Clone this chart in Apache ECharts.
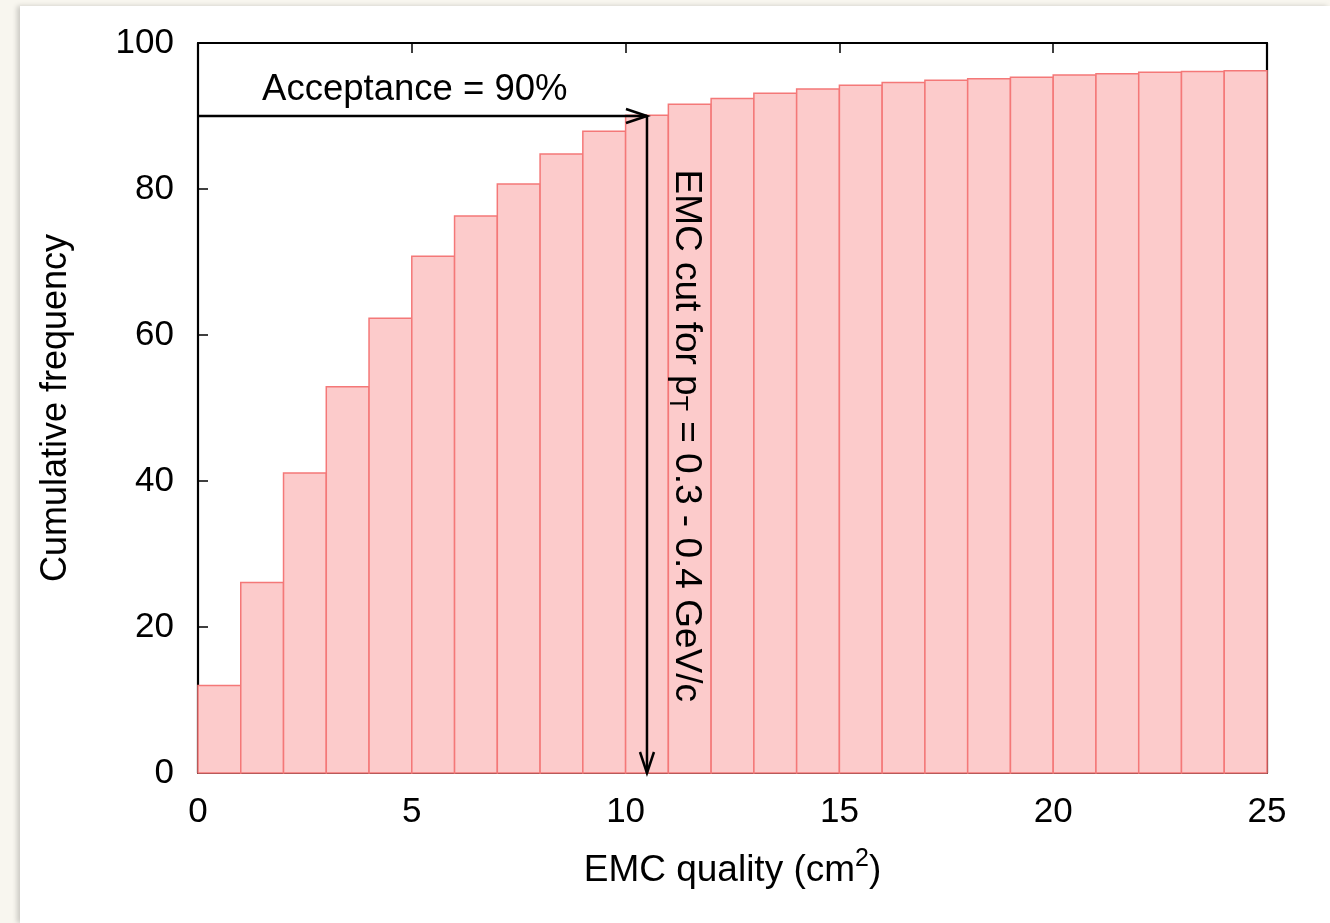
<!DOCTYPE html>
<html><head><meta charset="utf-8">
<script src="https://cdn.jsdelivr.net/npm/echarts@6/dist/echarts.min.js"></script>
<style>
html,body{margin:0;padding:0;background:#f8f6ef;width:1330px;height:923px;overflow:hidden}
#panel{position:absolute;left:20px;top:6px;width:1310px;height:917px;background:#fff;box-shadow:-3px 0 5px rgba(0,0,0,0.18)}
#chart{position:absolute;left:0;top:0;width:1330px;height:923px}
</style></head><body><div id="panel"></div><div id="chart"></div>
<script>
// ---- data ----
const binStart = [0,1,2,3,4,5,6,7,8,9,10,11,12,13,14,15,16,17,18,19,20,21,22,23,24];
const binEnd   = [1,2,3,4,5,6,7,8,9,10,11,12,13,14,15,16,17,18,19,20,21,22,23,24,25];
const cumulativeFrequency = [12.0,26.1,41.1,52.9,62.3,70.8,76.3,80.7,84.8,87.9,90.1,91.6,92.4,93.1,93.7,94.2,94.6,94.9,95.1,95.3,95.6,95.8,96.0,96.1,96.2];
const xTickValues = [0,5,10,15,20,25];
const yTickValues = [0,20,40,60,80,100];
const acceptance = 90;
const cutValue = 10.5;
const acceptanceText = 'Acceptance = 90%';
const cutText = ['EMC cut for p', 'T', ' = 0.3 - 0.4 GeV/c'];
const xTitle = ['EMC quality (cm', '2', ')'];
const yTitle = 'Cumulative frequency';

// ---- chart ----
const FONT = "'Liberation Sans', Arial, Helvetica, sans-serif";
const chart = echarts.init(document.getElementById('chart'), null, {renderer: 'canvas'});

const barData = binStart.map((s, i) => [s, binEnd[i], cumulativeFrequency[i]]);
const arrowData = [
  [0, acceptance, cutValue, acceptance],
  [cutValue, acceptance, cutValue, 0]
];

const tickCommon = {show: true, inside: true, length: 10, lineStyle: {color: '#000', width: 1.5}};
const lineCommon = {show: true, onZero: false, lineStyle: {color: '#000', width: 2.2}};

chart.setOption({
  animation: false,
  backgroundColor: 'transparent',
  grid: {left: 198, right: 63, top: 43, bottom: 150, containLabel: false},
  xAxis: [{
    type: 'value', position: 'bottom', min: 0, max: 25, interval: 5,
    axisLine: lineCommon, axisTick: tickCommon, splitLine: {show: false},
    axisLabel: {show: true, color: '#000', fontSize: 35, fontFamily: FONT, margin: 22,
      customValues: xTickValues},
    name: '{n|' + xTitle[0] + '}{sup|' + xTitle[1] + '}{n|' + xTitle[2] + '}',
    nameLocation: 'middle', nameGap: 74,
    nameTextStyle: {color: '#000', fontSize: 37, fontFamily: FONT,
      rich: {n: {fontSize: 37, fontFamily: FONT, color: '#000'},
             sup: {fontSize: 25, fontFamily: FONT, color: '#000', padding: [0, 0, 22, 0]}}}
  }, {
    type: 'value', position: 'top', min: 0, max: 25, interval: 5,
    axisLine: lineCommon, axisTick: tickCommon, splitLine: {show: false},
    axisLabel: {show: false}
  }],
  yAxis: [{
    type: 'value', position: 'left', min: 0, max: 100, interval: 20,
    axisLine: lineCommon, axisTick: tickCommon, splitLine: {show: false},
    axisLabel: {show: true, color: '#000', fontSize: 35, fontFamily: FONT, margin: 24},
    name: yTitle, nameLocation: 'middle', nameGap: 124, nameRotate: 90,
    nameTextStyle: {color: '#000', fontSize: 36, fontFamily: FONT}
  }, {
    type: 'value', position: 'right', min: 0, max: 100, interval: 20,
    axisLine: lineCommon, axisTick: tickCommon, splitLine: {show: false},
    axisLabel: {show: false}
  }],
  series: [{
    type: 'custom', name: 'bars', xAxisIndex: 0, yAxisIndex: 0,
    encode: {x: [0, 1], y: 2},
    data: barData,
    renderItem: function (params, api) {
      const p0 = api.coord([api.value(0), api.value(2)]);
      const p1 = api.coord([api.value(1), 0]);
      return {type: 'rect', shape: {x: p0[0], y: p0[1], width: p1[0] - p0[0], height: p1[1] - p0[1]},
        style: {fill: '#fccbcb', stroke: '#f47878', lineWidth: 1.5}};
    }
  }, {
    type: 'custom', name: 'arrows', xAxisIndex: 0, yAxisIndex: 0, z: 5,
    encode: {x: [0, 2], y: [1, 3]},
    data: arrowData,
    renderItem: function (params, api) {
      const a = api.coord([api.value(0), api.value(1)]);
      const b = api.coord([api.value(2), api.value(3)]);
      const dx = b[0] - a[0], dy = b[1] - a[1];
      const len = Math.sqrt(dx * dx + dy * dy);
      const ux = dx / len, uy = dy / len;
      const L = 21, W = 7;
      const h1 = [b[0] - ux * L - uy * W, b[1] - uy * L + ux * W];
      const h2 = [b[0] - ux * L + uy * W, b[1] - uy * L - ux * W];
      return {type: 'group', children: [
        {type: 'line', shape: {x1: a[0], y1: a[1], x2: b[0], y2: b[1]}, style: {stroke: '#000', lineWidth: 2.5}},
        {type: 'polyline', shape: {points: [h1, b, h2]}, style: {stroke: '#000', lineWidth: 2.5, fill: null}}
      ]};
    }
  }, {
    type: 'custom', name: 'labels', xAxisIndex: 0, yAxisIndex: 0, z: 6,
    data: [[5.07, 93.6, 0], [11.42, 46.2, 1]],
    renderItem: function (params, api) {
      const p = api.coord([api.value(0), api.value(1)]);
      if (api.value(2) === 0) {
        return {type: 'text', x: p[0], y: p[1],
          style: {text: acceptanceText, fill: '#000', fontSize: 36.5, fontFamily: FONT, align: 'center', verticalAlign: 'middle'}};
      }
      return {type: 'text', x: p[0], y: p[1], rotation: -Math.PI / 2,
        style: {text: '{n|' + cutText[0] + '}{sub|' + cutText[1] + '}{n|' + cutText[2] + '}',
          fill: '#000', fontSize: 37, fontFamily: FONT, align: 'center', verticalAlign: 'middle',
          rich: {n: {fontSize: 37, fontFamily: FONT, fill: '#000'},
                 sub: {fontSize: 25, fontFamily: FONT, fill: '#000', padding: [18, 0, 0, 0]}}}};
    }
  }]
});
</script></body></html>
